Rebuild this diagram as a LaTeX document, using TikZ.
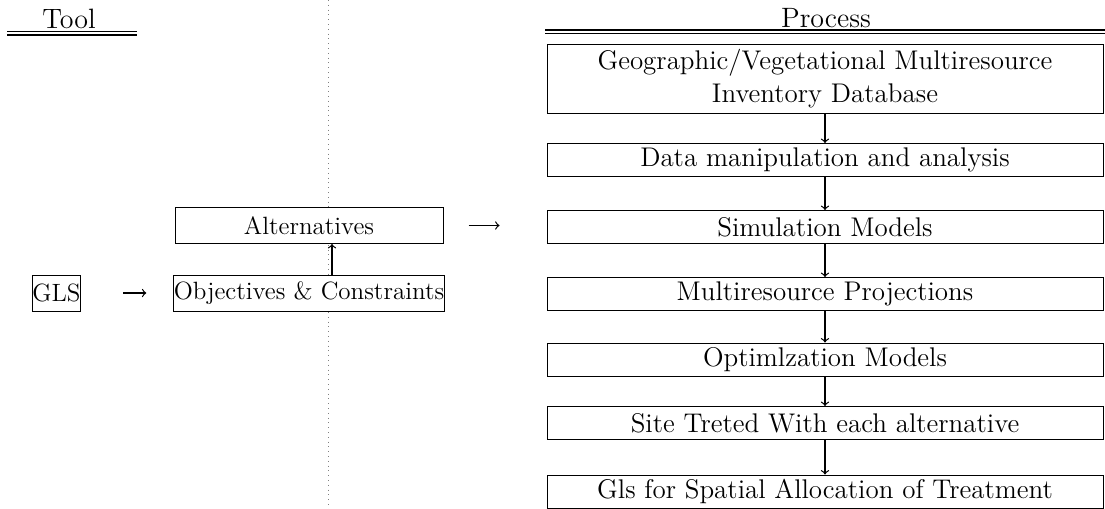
\documentclass[tikz,border=0pt]{standalone}
\usetikzlibrary{positioning}

\begin{document}
\begin{tikzpicture}[x=0.5pt,y=-0.5pt,
  every node/.style={font=\fontsize{12.5}{15}\selectfont},
  box/.style={draw,fill=white,line width=0.5pt,inner sep=0pt,align=center},
  procbox/.style={box,minimum width=278pt,minimum height=16.5pt,
    font=\fontsize{13.5}{16.5}\selectfont},
  toolbox/.style={box,minimum width=134pt,minimum height=18pt},
  head/.style={anchor=base,font=\fontsize{14}{16}\selectfont},
  flow/.style={->,line width=0.6pt},
  rule/.style={line width=0.7pt}]
\useasboundingbox (0,0) rectangle (1105,509);

% divider between the two columns
\draw[dotted,gray] (328,0) -- (328,509);

% column headings
\node[head] (tool) at (69,28) {Tool};
\node[head] (proc) at (826,27) {Process};
\draw[rule,line width=0.9pt] (7,31.5) -- (137,31.5);
\draw[rule] (7,35) -- (137,35);
\draw[rule,line width=0.9pt] (545,30) -- (1105,30);
\draw[rule] (545,33.5) -- (1105,33.5);

% process chain
\node[procbox,minimum height=34.5pt] (db) at (825,78.5)
  {Geographic/Vegetational Multiresource\\Inventory Database};
\node[procbox] (dm) at (825,160) {Data manipulation and analysis};
\node[procbox] (sim) at (825,227) {Simulation Models};
\node[procbox] (proj) at (825,294) {Multiresource Projections};
\node[procbox] (opt) at (825,359.5) {Optimlzation Models};
\node[procbox] (site) at (825,423) {Site Treted With each alternative};
\node[procbox] (gis) at (825,491.5) {Gls for Spatial Allocation of Treatment};

\foreach \a/\b in {db/dm,dm/sim,sim/proj,proj/opt,opt/site,site/gis}
  \draw[flow] (\a) -- (\b);

% tool side
\node[toolbox] (alt) at (309,225.5) {Alternatives};
\node[toolbox] (obj) at (309,293) {Objectives \& Constraints};
\node[box,minimum width=23.5pt,minimum height=18pt] (gls) at (56.5,293) {GLS};

\draw[flow] ([xshift=11.5pt]obj.north) -- ([xshift=11.5pt]alt.south);
\draw[flow,shorten <=21pt,shorten >=13.5pt] (gls) -- (obj);
\draw[flow,shorten <=12.5pt,shorten >=23.5pt] (alt) -- (alt -| sim.west);

\end{tikzpicture}
\end{document}
